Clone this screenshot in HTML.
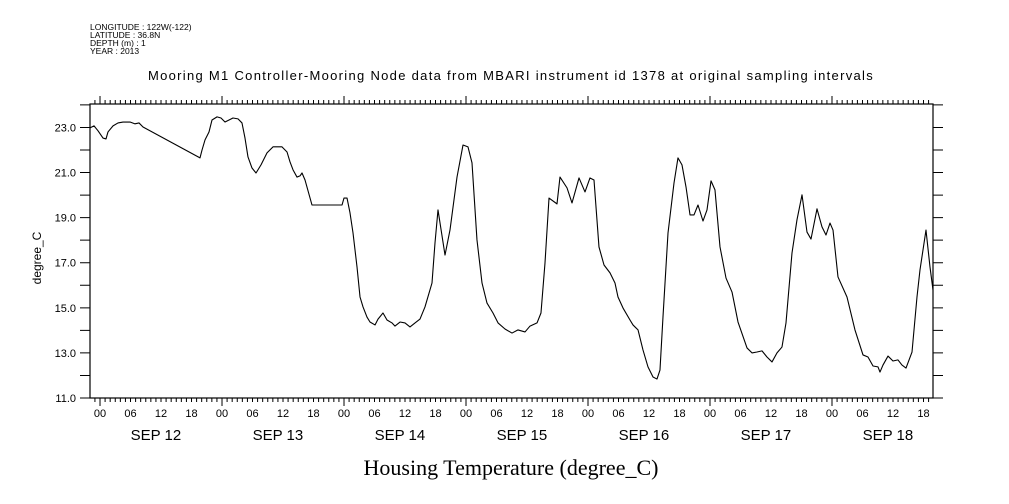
<!DOCTYPE html>
<html><head><meta charset="utf-8"><style>
html,body{margin:0;padding:0;background:#fff;}
svg{display:block;}
</style></head><body>
<svg id="chart" width="1009" height="504" xmlns="http://www.w3.org/2000/svg" font-family="Liberation Sans, sans-serif">
<g font-size="8.5" fill="#000">
<text x="90" y="30">LONGITUDE : 122W(-122)</text>
<text x="90" y="38">LATITUDE : 36.8N</text>
<text x="90" y="46">DEPTH (m) : 1</text>
<text x="90" y="54">YEAR : 2013</text>
</g>
<text x="511" y="80" font-size="13" text-anchor="middle" letter-spacing="1.3">Mooring M1 Controller-Mooring Node data from MBARI instrument id 1378 at original sampling intervals</text>
<text x="0" y="0" font-size="12" text-anchor="middle" transform="translate(41,258) rotate(-90)">degree_C</text>
<text x="511" y="475" font-size="22" font-family="Liberation Serif, serif" text-anchor="middle">Housing Temperature (degree_C)</text>
<g id="axes"></g>
<g id="series"></g>
</svg>
<script>
const hours = [-1.97,-1.18,-0.39,0.59,1.18,1.57,2.56,3.54,4.52,5.90,6.89,7.67,8.46,19.67,20.07,20.66,21.44,22.03,23.02,23.80,24.59,25.38,26.16,27.15,27.93,28.52,29.11,29.90,30.69,31.67,32.85,34.03,35.80,36.79,37.38,37.97,38.75,39.34,39.74,40.33,41.70,47.61,48.0,48.59,49.18,49.77,50.56,51.15,51.74,52.52,53.11,54.10,54.69,55.67,56.46,57.44,58.03,59.02,60.0,60.98,61.97,62.95,63.93,65.31,65.9,66.49,67.87,68.85,70.23,71.41,72.39,73.18,74.16,75.15,76.13,77.31,78.30,79.67,81.05,82.23,83.61,84.59,85.97,86.75,87.54,88.33,89.9,90.49,91.87,92.85,94.23,95.41,96.39,97.18,98.16,99.15,100.33,101.31,101.9,102.89,104.26,104.85,105.84,106.82,107.8,108.79,109.57,110.16,110.75,111.74,112.92,113.70,114.49,115.28,116.07,116.85,117.64,118.62,119.41,120.2,120.98,121.97,123.15,124.33,125.51,127.28,128.26,129.25,130.23,131.21,132.2,133.18,134.16,134.95,136.13,137.11,138.1,139.08,139.87,141.05,142.03,142.82,143.61,144.2,145.18,146.95,148.52,150.1,151.08,152.07,153.05,153.44,154.03,155.02,156.0,156.98,157.77,158.56,159.74,160.72,161.31,162.49,163.28,163.87];
const temps = [22.98,23.07,22.85,22.53,22.49,22.80,23.07,23.20,23.24,23.24,23.16,23.20,23.02,21.65,22.0,22.45,22.80,23.33,23.47,23.42,23.24,23.33,23.42,23.38,23.20,22.53,21.69,21.20,20.98,21.34,21.87,22.14,22.14,21.91,21.47,21.12,20.80,20.85,20.98,20.67,19.56,19.56,19.87,19.87,19.21,18.32,16.81,15.48,15.04,14.59,14.37,14.24,14.50,14.77,14.46,14.33,14.19,14.37,14.33,14.15,14.33,14.50,15.04,16.10,17.88,19.34,17.34,18.45,20.80,22.22,22.14,21.43,18.01,16.10,15.21,14.77,14.33,14.06,13.88,14.02,13.93,14.19,14.33,14.77,16.99,19.87,19.61,20.80,20.32,19.65,20.76,20.14,20.76,20.67,17.70,16.90,16.55,16.10,15.48,14.99,14.46,14.24,14.02,13.13,12.38,11.93,11.84,12.24,14.59,18.32,20.54,21.65,21.34,20.36,19.12,19.12,19.56,18.85,19.34,20.63,20.23,17.70,16.32,15.70,14.37,13.22,13.0,13.04,13.09,12.82,12.60,13.0,13.26,14.33,17.43,18.90,20.01,18.36,18.05,19.39,18.59,18.23,18.76,18.45,16.37,15.48,14.02,12.91,12.82,12.42,12.38,12.15,12.46,12.86,12.64,12.69,12.46,12.33,13.04,15.48,16.68,18.45,16.81,15.79];
const yTickValues = [11,13,15,17,19,21,23];
const yTickLabels = ["11.0","13.0","15.0","17.0","19.0","21.0","23.0"];
const hourLabels = ["00","06","12","18"];
const dayLabels = ["SEP 12","SEP 13","SEP 14","SEP 15","SEP 16","SEP 17","SEP 18"];

const L=90,R=933,T=104,B=398;
const H0=-1.97,H1=163.87,V0=11,V1=24.04;
const xs=h=>L+(h-H0)/(H1-H0)*(R-L);
const ys=v=>B-(v-V0)/(V1-V0)*(B-T);
const NS="http://www.w3.org/2000/svg";
const axes=document.getElementById('axes');
const series=document.getElementById('series');
function mk(tag,attrs,parent){const e=document.createElementNS(NS,tag);for(const k in attrs)e.setAttribute(k,attrs[k]);parent.appendChild(e);return e;}

const frame=mk('rect',{x:L,y:T,width:R-L,height:B-T,fill:'none',stroke:'#000','stroke-width':1.2},axes);



let d='';
for(let v=11;v<=24;v++){const y=ys(v);d+=`M${L-10},${y}H${L}M${R},${y}H${R+10}`;}
for(let h=Math.ceil(H0);h<=H1;h++){const x=xs(h);const big=(h%24===0);const len=big?8:4;d+=`M${x},${B}V${B+len}M${x},${T}V${T-len}`;}
const ticks=mk('path',{d:d,stroke:'#000','stroke-width':1,fill:'none'},axes);



yTickValues.forEach((v,i)=>{
  const t=mk('text',{x:L-14,y:ys(v)+4,'font-size':11,'text-anchor':'end'},axes);
  t.textContent=yTickLabels[i];
  
  
});
dayLabels.forEach((lab,di)=>{
  hourLabels.forEach((hl,j)=>{
    const h=di*24+j*6; if(h>H1)return;
    const t=mk('text',{x:xs(h),y:417,'font-size':11,'text-anchor':'middle'},axes);
    t.textContent=hl;
    
    
  });
  const t=mk('text',{x:xs(di*24+11),y:440,'font-size':15,'text-anchor':'middle'},axes);
  t.textContent=lab;
  
  
});

const pts=hours.map((h,i)=>`${xs(h).toFixed(2)},${ys(temps[i]).toFixed(2)}`).join(' ');
const line=mk('polyline',{points:pts,fill:'none',stroke:'#000','stroke-width':1.1,'stroke-linejoin':'round'},series);


</script>
</body></html>
